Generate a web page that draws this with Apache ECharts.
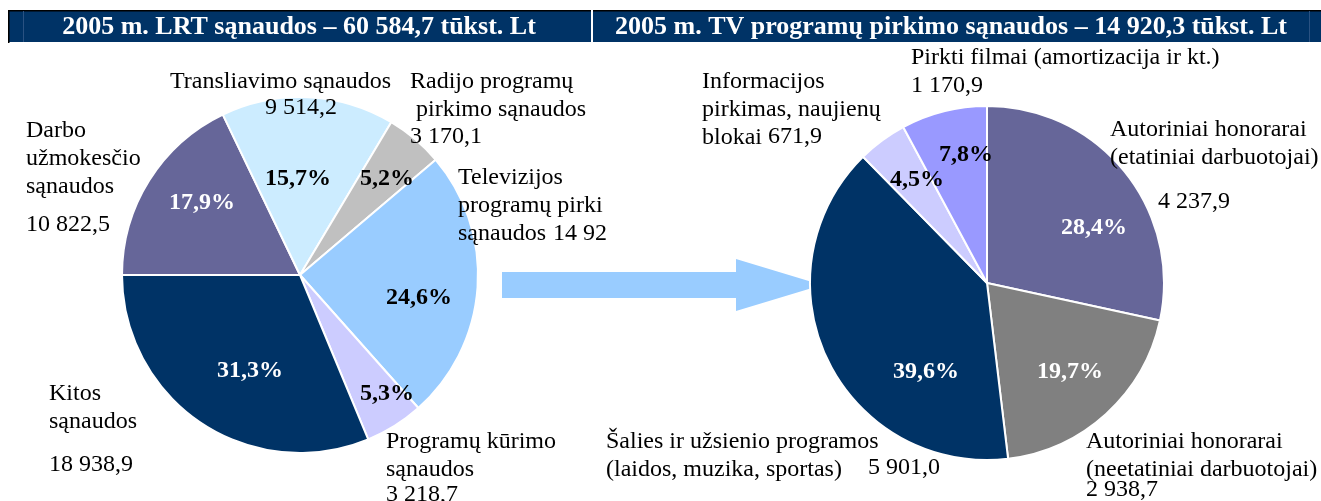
<!DOCTYPE html>
<html>
<head>
<meta charset="utf-8">
<script src="https://cdn.jsdelivr.net/npm/echarts@6/dist/echarts.min.js"></script>
<style>
  html, body { margin: 0; padding: 0; background: #fff; }
  #main { width: 1321px; height: 501px; }
</style>
</head>
<body>
<div id="main"></div>
<script>
// data
const titles = [
    '2005 m. LRT sąnaudos – 60 584,7 tūkst. Lt',
    '2005 m. TV programų pirkimo sąnaudos – 14 920,3 tūkst. Lt'
]

const lrtNames = [
    'Darbo\nužmokesčio\nsąnaudos',
    'Transliavimo sąnaudos',
    'Radijo programų\n pirkimo sąnaudos',
    'Televizijos\nprogramų pirkimo\nsąnaudos',
    'Programų kūrimo\nsąnaudos',
    'Kitos\nsąnaudos'
]
const lrtValues = [10822.5, 9514.2, 3170.1, 14920.3, 3218.7, 18938.9]
const lrtPercents = ['17,9%', '15,7%', '5,2%', '24,6%', '5,3%', '31,3%']

const tvNames = [
    'Autoriniai honorarai\n(etatiniai darbuotojai)',
    'Autoriniai honorarai\n(neetatiniai darbuotojai)',
    'Šalies ir užsienio programos\n(laidos, muzika, sportas)',
    'Informacijos\npirkimas, naujienų\nblokai',
    'Pirkti filmai (amortizacija ir kt.)'
]
const tvValues = [4237.9, 2938.7, 5901.0, 671.9, 1170.9]
const tvPercents = ['28,4%', '19,7%', '39,6%', '4,5%', '7,8%']

// styles / layout
const lrtColors = ['#666699', '#CCECFF', '#C0C0C0', '#99CCFF', '#CCCCFF', '#003366']
const lrtPctColors = ['#fff', '#000', '#000', '#000', '#000', '#fff']
const tvColors = ['#666699', '#808080', '#003366', '#CCCCFF', '#9999FF']
const tvPctColors = ['#fff', '#fff', '#fff', '#000', '#000']

const lrtPctPos = [[202, 203], [298, 179], [387, 179], [419, 298], [387, 394], [250, 371]]
const lrtNamePos = [[26, 131], [170, 82], [410, 82], [458, 178], [386, 442], [49, 394]]
const lrtValuePos = [[26, 225], [265, 108], [410, 137], [553, 234], [386, 495], [49, 465]]
const lrtNameClip = [null, null, null, 156, null, null]
const lrtValueClip = [null, null, null, 60, null, null]

const tvPctPos = [[1094, 228], [1070, 372], [926, 372], [917, 180], [966, 155]]
const tvNamePos = [[1110, 130], [1086, 442], [606, 442], [702, 82], [911, 58]]
const tvValuePos = [[1158, 202], [1086, 490], [868, 468], [768, 137], [911, 86]]

const FONT = "'Liberation Serif', 'Times New Roman', serif"
const LH = 28

function fmt(v) {
    const parts = v.toFixed(1).split('.')
    return parts[0].replace(/\B(?=(\d{3})+(?!\d))/g, ' ') + ',' + parts[1]
}

function clipLabel(w) {
    return w ? { width: w, overflow: 'truncate', ellipsis: '' } : {}
}

function buildPie(center, radius, startAngle, names, values, colors, pcts, pctColors, pctPos, namePos, valuePos, nameClip, valueClip) {
    const base = {
        type: 'pie',
        center: center,
        radius: radius,
        startAngle: startAngle,
        clockwise: true,
        avoidLabelOverlap: false,
        animation: false,
        labelLine: { show: false }
    }
    return [
        // slices + percent labels
        Object.assign({}, base, {
            itemStyle: { borderColor: '#fff', borderWidth: 2 },
            emphasis: { disabled: true },
            data: names.map((n, i) => ({
                name: n,
                value: values[i],
                itemStyle: { color: colors[i] },
                label: { color: pctColors[i] }
            })),
            label: {
                position: 'inside',
                fontFamily: FONT,
                fontWeight: 'bold',
                fontSize: 24,
                formatter: p => pcts[p.dataIndex]
            },
            labelLayout: p => ({
                x: pctPos[p.dataIndex][0],
                y: pctPos[p.dataIndex][1],
                align: 'center',
                verticalAlign: 'middle'
            })
        }),
        // category names
        Object.assign({}, base, {
            silent: true,
            z: 3,
            itemStyle: { color: 'rgba(0,0,0,0)', borderWidth: 0 },
            data: names.map((n, i) => ({
                name: n,
                value: values[i],
                label: clipLabel(nameClip && nameClip[i])
            })),
            label: {
                position: 'outside',
                color: '#000',
                fontFamily: FONT,
                fontSize: 24,
                lineHeight: LH,
                formatter: p => p.name
            },
            labelLayout: p => ({
                x: namePos[p.dataIndex][0],
                y: namePos[p.dataIndex][1] - LH / 2,
                align: 'left',
                verticalAlign: 'top'
            })
        }),
        // values
        Object.assign({}, base, {
            silent: true,
            z: 3,
            itemStyle: { color: 'rgba(0,0,0,0)', borderWidth: 0 },
            data: names.map((n, i) => ({
                name: n,
                value: values[i],
                label: clipLabel(valueClip && valueClip[i])
            })),
            label: {
                position: 'outside',
                color: '#000',
                fontFamily: FONT,
                fontSize: 24,
                lineHeight: LH,
                formatter: p => fmt(p.value)
            },
            labelLayout: p => ({
                x: valuePos[p.dataIndex][0],
                y: valuePos[p.dataIndex][1] - LH / 2,
                align: 'left',
                verticalAlign: 'top'
            })
        })
    ]
}

const chart = echarts.init(document.getElementById('main'))

const series = [].concat(
    buildPie([300, 275], 178, 180, lrtNames, lrtValues, lrtColors, lrtPercents, lrtPctColors,
        lrtPctPos, lrtNamePos, lrtValuePos, lrtNameClip, lrtValueClip),
    buildPie([987, 283], 177, 90, tvNames, tvValues, tvColors, tvPercents, tvPctColors,
        tvPctPos, tvNamePos, tvValuePos, null, null)
)

const option = {
    backgroundColor: '#fff',
    animation: false,
    graphic: [
        // header bars
        { type: 'rect', shape: { x: 9, y: 10, width: 582, height: 32 }, style: { fill: '#003366' } },
        { type: 'rect', shape: { x: 593, y: 10, width: 728, height: 32 }, style: { fill: '#003366' } },
        { type: 'rect', shape: { x: 9, y: 10, width: 1312, height: 1.5 }, style: { fill: '#000' } },
        { type: 'rect', shape: { x: 591, y: 10, width: 2, height: 32 }, style: { fill: '#fff' } },
        { type: 'rect', shape: { x: 8, y: 10, width: 1.5, height: 33 }, style: { fill: '#000' } },
        { type: 'rect', shape: { x: 23, y: 11, width: 1, height: 31 }, style: { fill: '#2a5282' } },
        { type: 'rect', shape: { x: 1309, y: 11, width: 1, height: 31 }, style: { fill: '#2a5282' } },
        {
            type: 'text', x: 299, y: 27,
            style: {
                text: titles[0], fill: '#fff', font: "bold 26px " + FONT,
                align: 'center', verticalAlign: 'middle'
            }
        },
        {
            type: 'text', x: 951, y: 27,
            style: {
                text: titles[1], fill: '#fff', font: "bold 26px " + FONT,
                align: 'center', verticalAlign: 'middle'
            }
        },
        // arrow between the two pies
        {
            type: 'polygon',
            z: 1,
            shape: {
                points: [[502, 272], [736, 272], [736, 259], [822, 285], [736, 311], [736, 298], [502, 298]]
            },
            style: { fill: '#99CCFF' }
        }
    ],
    series
}

chart.setOption(option)
</script>
</body>
</html>
